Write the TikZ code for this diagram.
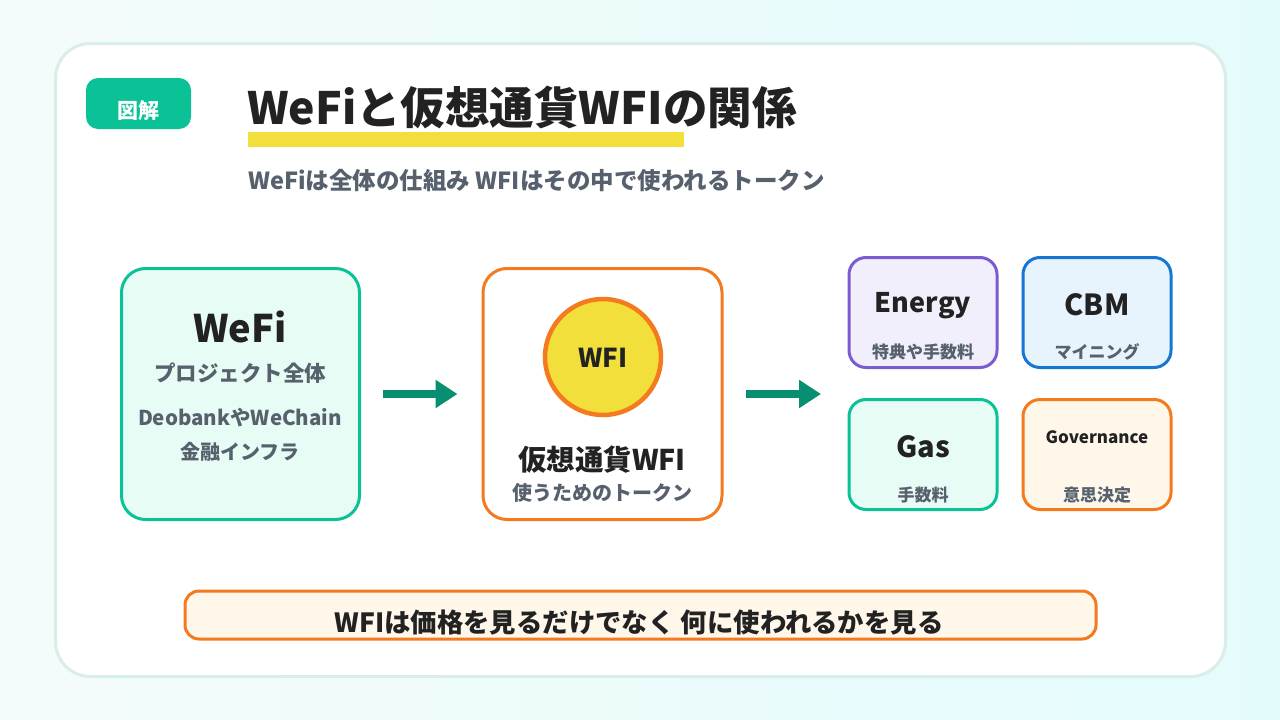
\documentclass[tikz,border=0pt]{standalone}
\usepackage{fontspec}
\setmainfont{Noto Sans CJK JP}
\usetikzlibrary{arrows.meta}
\definecolor{bgA}{HTML}{F4FCFB}
\definecolor{bgB}{HTML}{E4FBFC}
\definecolor{cardline}{HTML}{D8EEE9}
\definecolor{teal}{HTML}{0BC297}
\definecolor{darkteal}{HTML}{088F71}
\definecolor{orange}{HTML}{F47A1F}
\definecolor{yel}{HTML}{F2DF3B}
\definecolor{purple}{HTML}{7A5BD1}
\definecolor{blue}{HTML}{1677D3}
\definecolor{mint}{HTML}{E8FCF6}
\definecolor{lilac}{HTML}{F2EFFD}
\definecolor{skyfill}{HTML}{E8F4FD}
\definecolor{cream}{HTML}{FFF7EA}
\definecolor{ink}{HTML}{222222}
\definecolor{subgray}{HTML}{56616D}
\tikzset{
  fs/.style={font=\bfseries\fontsize{#1}{#1}\selectfont},
  txt/.style={inner sep=0pt, anchor=base, text=ink},
  gtxt/.style={inner sep=0pt, anchor=base, text=subgray},
  panel/.style={draw=#1, line width=3pt, rounded corners=24pt, inner sep=0pt},
  tile/.style={draw=#1, line width=3pt, rounded corners=17pt, inner sep=0pt, minimum width=148pt, minimum height=110pt},
  arr/.style={draw=darkteal, line width=8pt, -{Triangle[length=22pt,width=27pt]}},
}
\begin{document}
\begin{tikzpicture}[x=1pt,y=-1pt]
\useasboundingbox (0,0) rectangle (1280,720);
\shade[left color=bgA, right color=bgB] (0,0) rectangle (1280,720);
% card
\node[draw=cardline, fill=white, line width=3pt, rounded corners=35pt, minimum width=1170pt, minimum height=633pt, inner sep=0pt] (card) at (640.5,360) {};
% tag
\node[fill=teal, rounded corners=12pt, minimum width=105pt, minimum height=51pt, inner sep=0pt] (tag) at (138.5,103.5) {};
\node[inner sep=0pt, anchor=base, text=white, fs=21] (tagt) at (138.5,118.5) {図解};
% title
\fill[yel] (248,132) rectangle (684,147);
\node[txt, anchor=base west, fs=44.5] (title) at (247,124) {WeFiと仮想通貨WFIの関係};
\node[gtxt, anchor=base west, fs=23.5] (sub) at (248,189) {WeFiは全体の仕組み WFIはその中で使われるトークン};
% left panel
\node[panel=teal, fill=mint, minimum width=238pt, minimum height=251pt] (left) at (240.5,394) {};
\node[txt, fs=38] (lwefi) at (240,342) {WeFi};
\node[gtxt, fs=21.5] (lproj) at (240,381) {プロジェクト全体};
\node[gtxt, fs=20.5] (ldeo) at (240,425) {DeobankやWeChain};
\node[gtxt, fs=20] (lfin) at (240,459) {金融インフラ};
% middle panel
\node[panel=orange, fill=white, minimum width=239pt, minimum height=251pt] (mid) at (602.5,394) {};
\node[circle, draw=orange, fill=yel, line width=4.5pt, minimum size=116pt, inner sep=0pt] (coin) at (603,357) {};
\node[txt, fs=26] (coint) at (603,367) {WFI};
\node[txt, fs=28.5] (mname) at (602,470) {仮想通貨WFI};
\node[gtxt, fs=20] (mdesc) at (602,500) {使うためのトークン};
% tiles
\node[tile=purple, fill=lilac] (energy) at (923,312.5) {};
\node[txt, fs=27] (energyt) at (923,312) {Energy};
\node[gtxt, fs=17] (energys) at (923,358) {特典や手数料};
\node[tile=blue, fill=skyfill] (cbm) at (1097,312.5) {};
\node[txt, fs=29] (cbmt) at (1097,315) {CBM};
\node[gtxt, fs=17] (cbms) at (1097,358) {マイニング};
\node[tile=teal, fill=mint] (gas) at (923,454.5) {};
\node[txt, fs=29] (gast) at (923,457) {Gas};
\node[gtxt, fs=17] (gass) at (923,501) {手数料};
\node[tile=orange, fill=cream] (gov) at (1097,454.5) {};
\node[txt, fs=17] (govt) at (1097,443) {Governance};
\node[gtxt, fs=17] (govs) at (1097,501) {意思決定};
\coordinate (grp) at (848,394);
% arrows
\draw[arr, shorten <=22pt, shorten >=24pt] (left.east) -- (mid.west);
\draw[arr, shorten <=22pt, shorten >=27pt] (mid.east) -- (grp);
% banner
\node[draw=orange, fill=cream, line width=3pt, rounded corners=14pt, minimum width=911pt, minimum height=48pt, inner sep=0pt] (banner) at (640.5,615) {};
\node[txt, fs=26.4] (bannert) at (639,632.5) {WFIは価格を見るだけでなく 何に使われるかを見る};
\end{tikzpicture}
\end{document}
